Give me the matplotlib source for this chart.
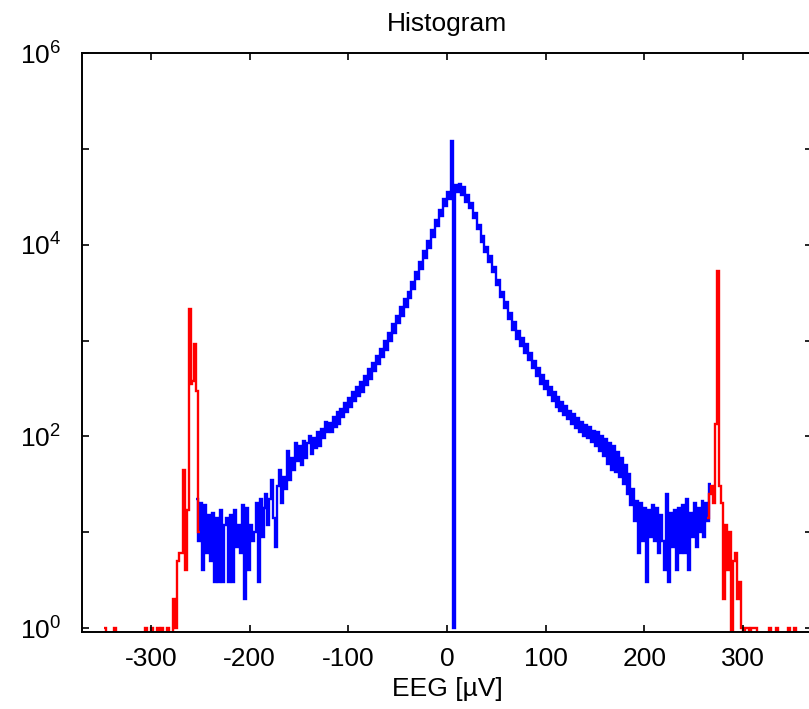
import matplotlib
matplotlib.use('Agg')
import matplotlib.pyplot as plt
import numpy as np
from matplotlib.ticker import FixedLocator, FuncFormatter, NullLocator

plt.rcParams['font.family'] = ['Liberation Sans', 'DejaVu Sans']
plt.rcParams['axes.unicode_minus'] = False
plt.rcParams['mathtext.fontset'] = 'custom'
plt.rcParams['mathtext.rm'] = 'Liberation Sans'

# histogram bins are 2 uV wide
bin_width = 2

# in-range samples (blue), bins from -254 uV upward
blue_start = -254
blue_counts = [
    # -253 .. -195
    22, 8, 20, 4, 19, 6, 15, 5, 16, 3,
    14, 3, 17, 3, 12, 14, 3, 15, 3, 17,
    7, 12, 6, 19, 2, 18, 4, 12, 8, 10,
    # -193 .. -151
    20, 3, 22, 9, 18, 25, 12, 22, 35, 14, 7,
    30, 45, 20, 38, 28, 70, 35, 60, 45, 85, 55,
    # -149 .. -121
    80, 50, 90, 60, 85, 100, 65, 95, 75, 110, 80, 120, 95, 140, 110,
    # -119 .. -1
    138, 110, 158, 126, 178, 135, 195, 158, 224, 178,
    251, 200, 288, 234, 331, 263, 372, 288, 427, 347,
    501, 398, 589, 479, 692, 562, 813, 676, 977, 794,
    1202, 1000, 1479, 1202, 1820, 1514, 2239, 1820, 2692, 2239,
    3236, 2754, 4074, 3467, 5129, 4365, 6607, 5623, 8511, 7244,
    10965, 9333, 14125, 12023, 18197, 15488, 22909, 19953, 30200, 25119,
    # 1 .. 7 (spike at 5 uV)
    35481, 30200, 120000, 1,
    # 9 .. 267
    41687, 35481, 42658, 33113, 39811, 28184, 33113, 23988, 27542, 19055,
    21380, 14454, 16218, 10715, 12303, 8318, 9550, 6607, 7586, 5129,
    5888, 3802, 4266, 2818, 3236, 2188, 2512, 1660, 1950, 1288,
    1549, 1047, 1259, 871, 1072, 741, 912, 631, 741, 513,
    617, 427, 513, 355, 437, 309, 380, 269, 331, 234,
    288, 204, 257, 182, 229, 166, 209, 151, 186, 135,
    170, 123, 155, 112, 141, 102, 132, 95, 126, 87,
    115, 79, 110, 71, 100, 63, 93, 52, 85, 45,
    79, 42, 69, 38, 60, 32, 50, 25, 40, 19,
    28, 13, 21, 6, 20, 8, 18, 3, 17, 9,
    19, 8, 18, 6, 15, 8, 4, 25, 3, 16,
    7, 17, 4, 18, 6, 19, 6, 22, 4, 16,
    9, 20, 7, 18, 10, 21, 9, 20, 13, 32,
]

# clipped samples (red), negative side
red_left_start = -348
red_left_counts = [
    1, 0, 0, 0, 0, 1,
    0, 0, 0, 0, 0, 0, 0, 0, 0, 0, 0, 0, 0, 0, 0,
    1, 0, 0, 1, 0, 0, 1, 0, 1, 0, 0, 1, 0, 0,
    2, 1, 5, 6, 6, 45, 4, 17, 2150, 350, 380, 930, 300, 10,
]

# clipped samples (red), positive side
red_right_start = 264
red_right_counts = [
    14, 25, 30, 20, 135, 5300, 30, 20, 2, 12,
    4, 10, 0, 5, 6, 2, 3, 1, 0, 1,
    1, 0, 1, 1, 1, 0, 0, 0, 0, 0,
    0, 1, 0, 0, 0, 1, 0, 0, 0, 0,
    0, 1, 0, 0, 1, 0,
]

x_ticks = [-300, -200, -100, 0, 100, 200, 300]
y_decades = [0, 1, 2, 3, 4, 5, 6]

assert len(blue_counts) == 261


def edges(start, counts):
    return start + bin_width * np.arange(len(counts) + 1)


def floored(counts):
    # empty bins drop below the axis instead of to log(0)
    return np.maximum(np.asarray(counts, dtype=float), 0.3)


fig = plt.figure(figsize=(8.09, 7.09), dpi=100)
ax = fig.add_axes([82 / 809, 1 - 631.7 / 709, 730 / 809, 578.7 / 709])
ax.set_yscale('log')

ax.stairs(floored(blue_counts), edges(blue_start, blue_counts),
          baseline=None, color='#0000ff', lw=1.7)
for start, counts in [(red_left_start, red_left_counts),
                      (red_right_start, red_right_counts)]:
    ax.stairs(floored(counts), edges(start, counts), baseline=None,
              color='#ff0000', lw=1.7)

ax.set_xlim(-370, 370)
ax.set_ylim(0.915, 1e6)
ax.set_xticks(x_ticks)
ax.yaxis.set_major_locator(FixedLocator([10.0 ** d for d in y_decades]))
ax.yaxis.set_minor_locator(NullLocator())
ax.yaxis.set_major_formatter(FuncFormatter(
    lambda v, p: r'$\mathregular{10^{%d}}$' % round(np.log10(v))
    if round(np.log10(v)) % 2 == 0 else ''))

ax.tick_params(direction='in', length=5, width=1.2, top=True, right=True,
               labelsize=19, colors='black')
ax.tick_params(axis='x', pad=11)
ax.tick_params(axis='y', pad=15)
for s in ax.spines.values():
    s.set_linewidth(1.4)

ax.set_title('Histogram', fontsize=19, pad=16)
ax.set_xlabel('EEG [µV]', fontsize=19, labelpad=4)

fig.savefig('out.png', dpi=100)
